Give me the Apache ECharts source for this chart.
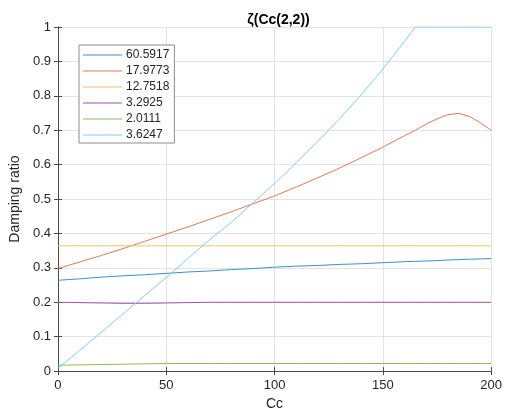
<!DOCTYPE html>
<html>
<head>
<meta charset="utf-8">
<script src="https://cdn.jsdelivr.net/npm/echarts@6/dist/echarts.min.js"></script>
<style>html,body{margin:0;padding:0;background:#fff}#c{width:505px;height:416px}</style>
</head>
<body>
<div id="c"></div>
<script>
var cc = [0,10,20,30,40,50,60,70,80,90,100,110,120,130,140,150,160,165,170,175,180,185,190,195,200];
var names = ['60.5917','17.9773','12.7518','3.2925','2.0111','3.6247'];
var s1 = [0.264,0.268,0.273,0.277,0.280,0.284,0.288,0.291,0.295,0.298,0.302,0.305,0.307,0.310,0.312,0.315,0.318,0.319,0.320,0.321,0.323,0.324,0.325,0.326,0.327];
var s2 = [0.298,0.317,0.336,0.356,0.377,0.398,0.419,0.441,0.463,0.486,0.509,0.535,0.562,0.590,0.620,0.651,0.684,0.700,0.718,0.733,0.745,0.749,0.740,0.722,0.700];
var s3 = [0.364,0.364,0.364,0.364,0.364,0.364,0.364,0.364,0.364,0.364,0.364,0.364,0.364,0.364,0.364,0.364,0.364,0.364,0.364,0.364,0.364,0.364,0.364,0.364,0.364];
var s4 = [0.200,0.199,0.198,0.197,0.197,0.198,0.199,0.200,0.200,0.200,0.200,0.200,0.200,0.200,0.200,0.200,0.200,0.200,0.200,0.200,0.200,0.200,0.200,0.200,0.200];
var s5 = [0.017,0.018,0.019,0.020,0.021,0.022,0.022,0.022,0.022,0.022,0.022,0.022,0.022,0.022,0.022,0.022,0.022,0.022,0.022,0.022,0.022,0.022,0.022,0.022,0.022];
var s6 = [0.008,0.060,0.113,0.166,0.219,0.272,0.327,0.382,0.432,0.489,0.545,0.605,0.668,0.733,0.803,0.878,0.958,1.0,1.0,1.0,1.0,1.0,1.0,1.0,1.0];
var values = [s1,s2,s3,s4,s5,s6];
var colors = ['#3f8fcc','#e27a52','#efc467','#9a55a6','#8dbb54','#7dcdf0'];

var font = '"Liberation Sans", Arial, Helvetica, sans-serif';
var axisCol = '#4a4a4a';
function pairs(v){ return cc.map(function(x,i){return [x, v[i]];}); }

var series = names.map(function(n,i){
  return {name:n, type:'line', data:pairs(values[i]), symbol:'none', showSymbol:false,
    lineStyle:{width:1, color:colors[i]}, itemStyle:{color:colors[i]}, silent:true, clip:true,
    xAxisIndex:0, yAxisIndex:0};
});

var chart = echarts.init(document.getElementById('c'), null, {renderer:'canvas'});
chart.setOption({
  animation:false,
  backgroundColor:'#fff',
  title:{text:'ζ(Cc(2,2))', left:273.5, textAlign:'center', top:8,
    textStyle:{fontFamily:font, fontSize:14, fontWeight:'bold', color:'#000'}},
  legend:{orient:'vertical', left:79, top:45, icon:'rect', itemWidth:39, itemHeight:1, itemGap:0,
    padding:[2,5,0,4], borderColor:'#8c8c8c', borderWidth:1, backgroundColor:'#fff',
    textStyle:{fontFamily:font, fontSize:12, color:'#262626', lineHeight:16, height:16, padding:[0,0,0,-1]},
    data:names},
  grid:{left:54, right:12, top:27, bottom:42, containLabel:false},
  xAxis:[{type:'value', min:0, max:200, interval:50, position:'bottom',
    name:'Cc', nameLocation:'middle', nameGap:25,
    nameTextStyle:{fontFamily:font, fontSize:14, color:'#262626'},
    axisLine:{show:true, lineStyle:{color:axisCol, width:1}},
    axisTick:{show:true, inside:true, length:4, lineStyle:{color:axisCol}},
    axisLabel:{fontFamily:font, fontSize:13, color:'#262626', margin:8},
    splitLine:{show:true, lineStyle:{color:'#e3e3e3', width:1}}},
   {type:'value', min:0, max:200, interval:50, position:'top',
    axisLine:{show:true, lineStyle:{color:axisCol, width:1}},
    axisTick:{show:true, inside:true, length:4, lineStyle:{color:axisCol}},
    axisLabel:{show:false}, splitLine:{show:false}}],
  yAxis:[{type:'value', min:0, max:1, interval:0.1, position:'left',
    name:'Damping ratio', nameLocation:'middle', nameGap:31,
    nameTextStyle:{fontFamily:font, fontSize:14, color:'#262626'},
    axisLine:{show:true, lineStyle:{color:axisCol, width:1}},
    axisTick:{show:true, inside:true, length:4, lineStyle:{color:axisCol}},
    axisLabel:{fontFamily:font, fontSize:13, color:'#262626', margin:7,
      formatter:function(v){return String(Math.round(v*10)/10);}},
    splitLine:{show:true, lineStyle:{color:'#e3e3e3', width:1}}},
   {type:'value', min:0, max:1, interval:0.1, position:'right',
    axisLine:{show:true, lineStyle:{color:axisCol, width:1}},
    axisTick:{show:true, inside:true, length:4, lineStyle:{color:axisCol}},
    axisLabel:{show:false}, splitLine:{show:false}}],
  series:series
});
</script>
</body>
</html>
